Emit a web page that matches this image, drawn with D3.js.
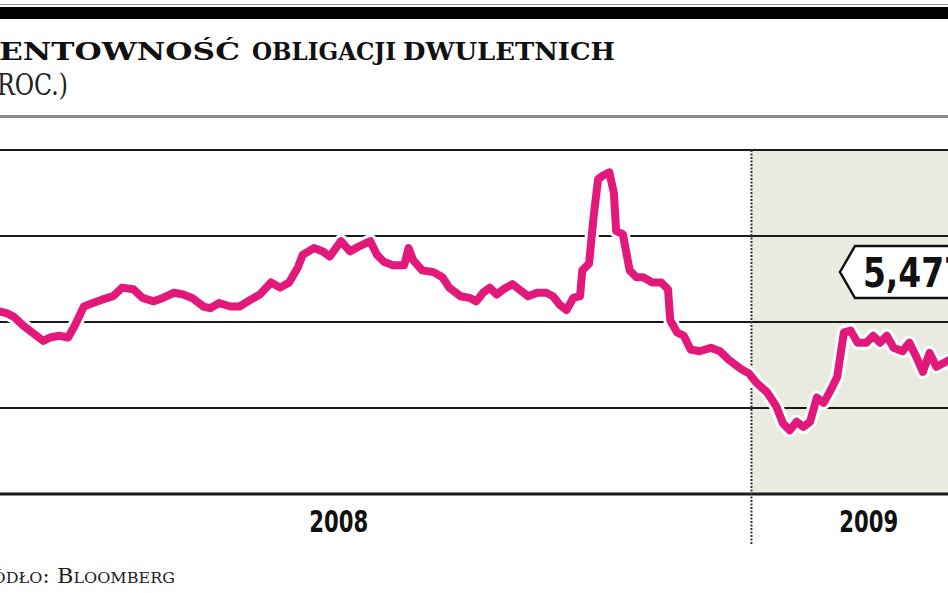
<!DOCTYPE html>
<html><head><meta charset="utf-8">
<script src="https://cdn.jsdelivr.net/npm/d3@7"></script>
<style>html,body{margin:0;padding:0;background:#fff;overflow:hidden;} svg{display:block;}</style>
</head><body><svg id="c" width="948" height="593"></svg>
<script>
const titleWords = ["RENTOWNOŚĆ", "OBLIGACJI", "DWULETNICH"];
const subtitleText = "(W PROC.)";
const sourceText = "Źródło: Bloomberg";
const years = ["2008", "2009"];
const yTicks = [4.5, 5, 5.5, 6, 6.5];
const lastValue = 5.477;
const dates = [
"2008-02-01","2008-02-03","2008-02-06","2008-02-09","2008-02-13","2008-02-17","2008-02-22","2008-02-25","2008-02-29","2008-03-04",
"2008-03-07","2008-03-11","2008-03-15","2008-03-19","2008-03-24","2008-03-28","2008-04-02","2008-04-06","2008-04-11","2008-04-15",
"2008-04-20","2008-04-24","2008-04-28","2008-05-03","2008-05-06","2008-05-10","2008-05-15","2008-05-19","2008-05-24","2008-05-28",
"2008-06-02","2008-06-06","2008-06-10","2008-06-14","2008-06-16","2008-06-21","2008-06-25","2008-06-28","2008-07-03","2008-07-07",
"2008-07-11","2008-07-16","2008-07-19","2008-07-22","2008-07-26","2008-07-31","2008-08-02","2008-08-04","2008-08-08","2008-08-13",
"2008-08-17","2008-08-20","2008-08-25","2008-08-29","2008-09-01","2008-09-04","2008-09-07","2008-09-10","2008-09-13","2008-09-17",
"2008-09-20","2008-09-24","2008-09-28","2008-10-02","2008-10-05","2008-10-08","2008-10-11","2008-10-14","2008-10-17","2008-10-18",
"2008-10-21","2008-10-23","2008-10-25","2008-10-27","2008-10-30","2008-11-01","2008-11-02","2008-11-05","2008-11-08","2008-11-11",
"2008-11-14","2008-11-18","2008-11-22","2008-11-25","2008-11-26","2008-11-29","2008-12-02","2008-12-05","2008-12-09","2008-12-14",
"2008-12-18","2008-12-22","2008-12-27","2008-12-31","2009-01-03","2009-01-08","2009-01-12","2009-01-15","2009-01-18","2009-01-21",
"2009-01-24","2009-01-27","2009-01-30","2009-02-02","2009-02-05","2009-02-08","2009-02-11","2009-02-14","2009-02-17","2009-02-21",
"2009-02-24","2009-02-27","2009-03-02","2009-03-05","2009-03-09","2009-03-12","2009-03-15","2009-03-18","2009-03-21","2009-03-24",
"2009-03-27","2009-03-30"];
const values = [
5.57,5.56,5.55,5.53,5.48,5.44,5.39,5.41,5.42,5.41,
5.48,5.59,5.61,5.63,5.65,5.70,5.69,5.64,5.62,5.64,
5.67,5.66,5.64,5.59,5.58,5.61,5.59,5.59,5.63,5.66,
5.73,5.70,5.73,5.82,5.89,5.93,5.91,5.88,5.97,5.91,
5.94,5.97,5.89,5.85,5.83,5.83,5.93,5.86,5.80,5.79,
5.76,5.70,5.65,5.64,5.62,5.67,5.70,5.66,5.69,5.72,
5.69,5.65,5.67,5.67,5.65,5.60,5.57,5.64,5.65,5.80,
5.84,6.11,6.33,6.35,6.37,6.25,6.03,6.01,5.80,5.76,
5.76,5.73,5.73,5.69,5.51,5.44,5.42,5.34,5.33,5.35,
5.33,5.28,5.23,5.20,5.15,5.09,5.01,4.91,4.87,4.92,
4.89,4.92,5.06,5.03,5.10,5.18,5.44,5.45,5.38,5.38,
5.42,5.38,5.42,5.35,5.33,5.38,5.30,5.21,5.32,5.24,
5.26,5.28];

const parse = d3.timeParse("%Y-%m-%d");
const data = dates.map((d, i) => ({ date: parse(d), value: values[i] }));
const svg = d3.select("#c");

const x = d3.scaleTime()
  .domain([parse("2008-01-01"), parse("2009-04-15")])
  .range([-74, 986]);
const y = d3.scaleLinear().domain([4.5, 6.5]).range([494, 150]);
const [x0, x1] = x.range();
const yearStart = parse("2009-01-01");

// header
svg.append("line").attr("x1", 0).attr("x2", 948).attr("y1", 4.5).attr("y2", 4.5)
  .attr("stroke", "#9a9a9a").attr("stroke-width", 1);
svg.append("rect").attr("x", 0).attr("y", 7).attr("width", 948).attr("height", 12).attr("fill", "#000");

// title: three words laid out on one line
const wordBoxes = [[-27, 267], [252, 144], [403, 212]];
svg.append("g").selectAll("text").data(titleWords).join("text")
  .attr("x", (d, i) => wordBoxes[i][0]).attr("y", 60)
  .attr("font-family", "'DejaVu Serif', serif").attr("font-weight", "bold").attr("font-size", 25)
  .attr("textLength", (d, i) => wordBoxes[i][1]).attr("lengthAdjust", "spacingAndGlyphs")
  .attr("fill", "#111").text(d => d);

svg.append("text").attr("x", 68).attr("y", 95).attr("text-anchor", "end")
  .attr("font-family", "'DejaVu Serif', serif").attr("font-size", 30)
  .attr("textLength", 128).attr("lengthAdjust", "spacingAndGlyphs")
  .attr("fill", "#222").text(subtitleText);
svg.append("line").attr("x1", 0).attr("x2", 948).attr("y1", 116.5).attr("y2", 116.5)
  .attr("stroke", "#8c8c8c").attr("stroke-width", 3);

// shaded 2009 region
svg.append("rect").attr("x", x(yearStart)).attr("y", y(6.5))
  .attr("width", x1 - x(yearStart)).attr("height", y(4.5) - y(6.5))
  .attr("fill", "#e9ebe0");

// gridlines
svg.append("g").selectAll("line").data(yTicks).join("line")
  .attr("x1", x0).attr("x2", x1)
  .attr("y1", d => y(d)).attr("y2", d => y(d))
  .attr("stroke", "#1a1a1a").attr("stroke-width", d => d === 4.5 ? 3 : 2);

// dotted year separator
svg.append("line").attr("x1", x(yearStart)).attr("x2", x(yearStart))
  .attr("y1", y(6.5)).attr("y2", 545)
  .attr("stroke", "#333").attr("stroke-width", 2).attr("stroke-dasharray", "2,1.5");

// line with white halo
const line = d3.line().x(d => x(d.date)).y(d => y(d.value)).curve(d3.curveLinear);
svg.append("path").datum(data).attr("d", line).attr("fill", "none")
  .attr("stroke", "#fff").attr("stroke-width", 14).attr("stroke-linejoin", "round").attr("stroke-linecap", "round");
svg.append("path").datum(data).attr("d", line).attr("fill", "none")
  .attr("stroke", "#e2197b").attr("stroke-width", 8).attr("stroke-linejoin", "round").attr("stroke-linecap", "round");

// year labels
const yearCenters = [
  (x(parse("2008-01-01")) + x(yearStart)) / 2,
  (x(yearStart) + x1) / 2
];
svg.append("g").selectAll("text").data(years).join("text")
  .attr("x", (d, i) => yearCenters[i]).attr("y", 532).attr("text-anchor", "middle")
  .attr("font-family", "'DejaVu Sans Condensed', 'DejaVu Sans', sans-serif")
  .attr("font-stretch", "condensed").attr("font-weight", "bold").attr("font-size", 30)
  .attr("textLength", 59).attr("lengthAdjust", "spacingAndGlyphs")
  .attr("fill", "#111").text(d => d);

// value tag
const tag = svg.append("g");
tag.append("path")
  .attr("d", "M840,272 L855,246 L1000,246 L1000,298 L855,298 Z")
  .attr("fill", "#fff").attr("stroke", "#111").attr("stroke-width", 2.5).attr("stroke-linejoin", "miter");
tag.append("text").attr("x", 863).attr("y", 287)
  .attr("font-family", "'DejaVu Sans Condensed', 'DejaVu Sans', sans-serif")
  .attr("font-stretch", "condensed").attr("font-weight", "bold").attr("font-size", 41)
  .attr("textLength", 104).attr("lengthAdjust", "spacingAndGlyphs")
  .attr("fill", "#111").text(d3.format(".3f")(lastValue).replace(".", ","));

// source
svg.append("text").attr("x", 175).attr("y", 583).attr("text-anchor", "end")
  .attr("font-family", "'DejaVu Serif', serif").attr("font-variant", "small-caps")
  .attr("font-size", 21).attr("textLength", 210).attr("lengthAdjust", "spacingAndGlyphs")
  .attr("fill", "#222").text(sourceText);
</script></body></html>
